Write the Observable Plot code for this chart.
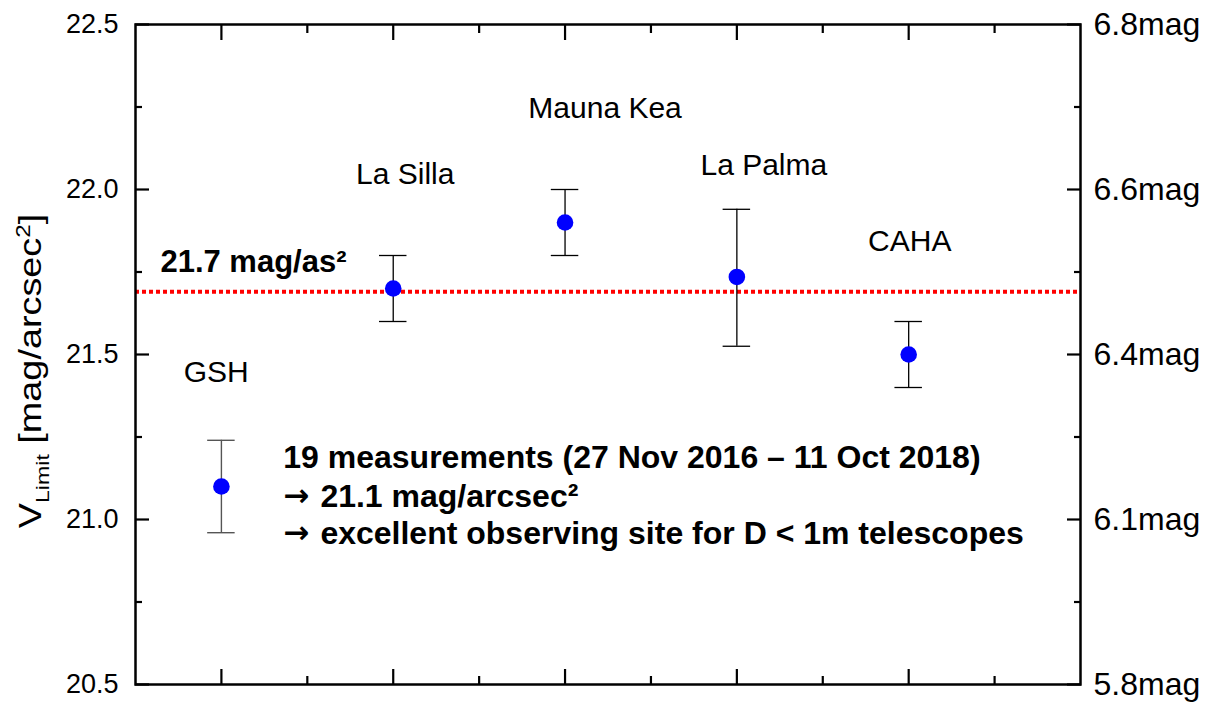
<!DOCTYPE html>
<html><head><meta charset="utf-8">
<script src="https://cdn.jsdelivr.net/npm/d3@7"></script>
<script src="https://cdn.jsdelivr.net/npm/@observablehq/plot@0.6"></script>
<style>body{margin:0;background:#fff} svg{display:block}</style>
</head><body><div id="chart"></div>
<script>
const sites = ["GSH", "La Silla", "Mauna Kea", "La Palma", "CAHA"];
const sitePos = [1, 2, 3, 4, 5];
const vLimit = [21.10, 21.70, 21.90, 21.735, 21.50];
const errLow = [20.96, 21.60, 21.80, 21.525, 21.40];
const errHigh = [21.24, 21.80, 22.00, 21.94, 21.60];
const labelX = [0.97, 2.07, 3.233, 4.157, 5.006];
const labelY = [21.445, 22.045, 22.245, 22.073, 21.842];
const refLevel = 21.69;
const refLabel = "21.7 mag/as²";
const refLabelX = 0.645;
const refLabelY = 21.779;
const leftTicks = [20.5, 21.0, 21.5, 22.0, 22.5];
const leftTickLabels = ["20.5", "21.0", "21.5", "22.0", "22.5"];
const rightTickLabels = ["5.8mag", "6.1mag", "6.4mag", "6.6mag", "6.8mag"];
const minorY = [20.75, 21.25, 21.75, 22.25];
const majorX = [1, 2, 3, 4, 5];
const minorX = [1.5, 2.5, 3.5, 4.5, 5.5];
const noteArrows = ["", "→", "→"];
const noteLines = ["19 measurements (27 Nov 2016 – 11 Oct 2018)", "21.1 mag/arcsec²", "excellent observing site for D < 1m telescopes"];
const noteX = 1.36;
const noteTextX = [1.36, 1.576, 1.576];
const noteY = [21.188, 21.070, 20.958];

const data = sites.map((s, i) => ({site: s, x: sitePos[i], v: vLimit[i], lo: errLow[i], hi: errHigh[i], lx: labelX[i], ly: labelY[i]}));
const cap = 0.08;
const blank = () => "";
const font = "'Liberation Sans', Arial, Helvetica, sans-serif";

const svg = Plot.plot({
  width: 1214, height: 704,
  marginLeft: 135, marginRight: 134, marginTop: 24, marginBottom: 20,
  style: {fontFamily: font, background: "#fff", color: "#000"},
  x: {domain: [0.5, 6.0], axis: null},
  y: {domain: [20.5, 22.5], axis: null},
  marks: [
    Plot.ruleY([refLevel], {stroke: "#ff0000", strokeWidth: 4, strokeDasharray: "4,3"}),
    Plot.axisY(leftTicks, {anchor: "left", tickSize: -14, tickFormat: blank, strokeWidth: 2.2}),
    Plot.axisY(minorY, {anchor: "left", tickSize: -7, tickFormat: blank, strokeWidth: 2.2}),
    Plot.axisY(leftTicks, {anchor: "right", tickSize: -14, tickFormat: blank, strokeWidth: 2.2}),
    Plot.axisY(minorY, {anchor: "right", tickSize: -7, tickFormat: blank, strokeWidth: 2.2}),
    Plot.axisX(majorX, {anchor: "bottom", tickSize: -15, tickFormat: blank, strokeWidth: 2.2}),
    Plot.axisX(minorX, {anchor: "bottom", tickSize: -8, tickFormat: blank, strokeWidth: 2.2}),
    Plot.axisX(majorX, {anchor: "top", tickSize: -15, tickFormat: blank, strokeWidth: 2.2}),
    Plot.axisX(minorX, {anchor: "top", tickSize: -8, tickFormat: blank, strokeWidth: 2.2}),
    Plot.axisY(leftTicks, {anchor: "left", tickSize: 0, tickPadding: 17, fontSize: 27, tickFormat: d => leftTickLabels[leftTicks.indexOf(d)]}),
    Plot.axisY(leftTicks, {anchor: "right", tickSize: 0, tickPadding: 13, fontSize: 32, tickFormat: d => rightTickLabels[leftTicks.indexOf(d)]}),
    Plot.frame({stroke: "#000", strokeWidth: 2.5}),
    Plot.ruleX(data, {filter: d => d.site === "GSH", x: "x", y1: "lo", y2: "hi", stroke: "#555", strokeWidth: 1.4}),
    Plot.ruleY(data, {filter: d => d.site === "GSH", y: "lo", x1: d => d.x - cap, x2: d => d.x + cap, stroke: "#555", strokeWidth: 1.4}),
    Plot.ruleY(data, {filter: d => d.site === "GSH", y: "hi", x1: d => d.x - cap, x2: d => d.x + cap, stroke: "#555", strokeWidth: 1.4}),
    Plot.ruleX(data, {filter: d => d.site !== "GSH", x: "x", y1: "lo", y2: "hi", stroke: "#000", strokeWidth: 1.3}),
    Plot.ruleY(data, {filter: d => d.site !== "GSH", y: "lo", x1: d => d.x - cap, x2: d => d.x + cap, stroke: "#000", strokeWidth: 1.3}),
    Plot.ruleY(data, {filter: d => d.site !== "GSH", y: "hi", x1: d => d.x - cap, x2: d => d.x + cap, stroke: "#000", strokeWidth: 1.3}),
    Plot.dot(data, {x: "x", y: "v", r: 8.3, fill: "#0000ff", stroke: null}),
    Plot.text(data, {x: "lx", y: "ly", text: "site", fontSize: 30, lineAnchor: "middle", fill: "#000"}),
    Plot.text([refLabel], {x: () => refLabelX, y: () => refLabelY, text: d => d, textAnchor: "start", lineAnchor: "middle", fontSize: 31, fontWeight: "bold", fill: "#000"}),
    Plot.text(noteArrows, {x: () => noteX, y: (d, i) => noteY[i], text: d => d, textAnchor: "start", lineAnchor: "middle", fontSize: 31, fontWeight: "bold", fontFamily: "'DejaVu Sans', sans-serif", fill: "#000"}),
    Plot.text(noteLines, {x: (d, i) => noteTextX[i], y: (d, i) => noteY[i], text: d => d, textAnchor: "start", lineAnchor: "middle", fontSize: 32, fontWeight: "bold", fill: "#000"})
  ]
});

const label = d3.select(svg).append("text")
  .attr("transform", "translate(41,371) rotate(-90) scale(1.22,1)")
  .attr("text-anchor", "middle")
  .attr("font-family", font)
  .attr("font-size", 31)
  .attr("fill", "#000");
label.append("tspan").text("V");
label.append("tspan").attr("font-size", 19).attr("dy", 8).text("Limit");
label.append("tspan").attr("dy", -8).text(" [mag/arcsec");
label.append("tspan").attr("font-size", 20).attr("dy", -11).text("2");
label.append("tspan").attr("dy", 11).text("]");

document.getElementById("chart").appendChild(svg);
</script>
</body></html>
